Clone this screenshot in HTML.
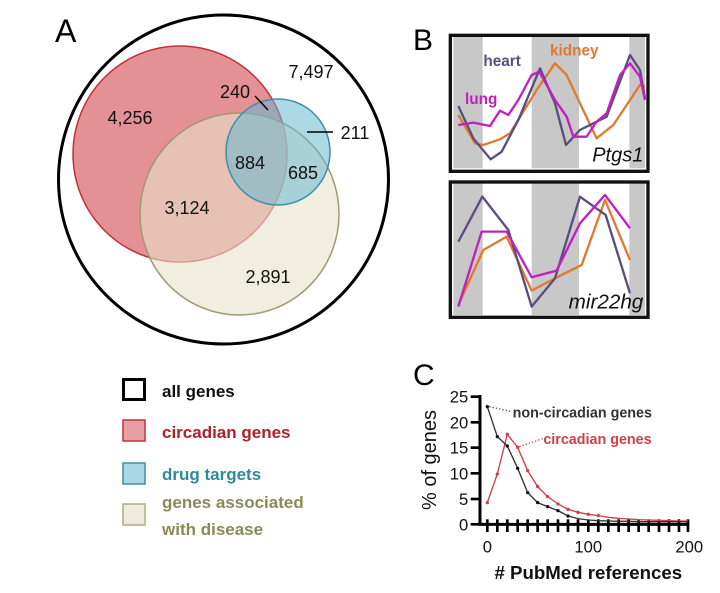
<!DOCTYPE html>
<html><head><meta charset="utf-8"><style>
html,body{margin:0;padding:0;background:#fff;width:720px;height:593px;overflow:hidden}
svg{display:block;font-family:"Liberation Sans",sans-serif}
</style></head><body>
<svg width="720" height="593" viewBox="0 0 720 593" xmlns="http://www.w3.org/2000/svg">
<!-- Panel A -->
<text x="55" y="42" font-size="32">A</text>
<ellipse cx="223.5" cy="179.5" rx="165" ry="164.5" fill="none" stroke="#000" stroke-width="3"/>
<ellipse cx="180" cy="154" rx="107" ry="108" fill="#e08589" fill-opacity="0.9" stroke="#c23038" stroke-width="1.5"/>
<ellipse cx="239.5" cy="214" rx="99.5" ry="101" fill="#e8e2cc" fill-opacity="0.6" stroke="#a09a70" stroke-width="1.5"/>
<ellipse cx="278" cy="152" rx="52" ry="53" fill="#6ab8cf" fill-opacity="0.55" stroke="#3c8fa5" stroke-width="1.5"/>
<g font-size="18" text-anchor="middle" fill="#111">
<text x="311" y="78">7,497</text>
<text x="235" y="98">240</text>
<text x="130" y="124">4,256</text>
<text x="355" y="139">211</text>
<text x="250" y="169">884</text>
<text x="303" y="179">685</text>
<text x="187" y="214">3,124</text>
<text x="268" y="283">2,891</text>
</g>
<line x1="255" y1="96" x2="268" y2="110" stroke="#000" stroke-width="1.5"/>
<line x1="307" y1="132" x2="333" y2="132" stroke="#000" stroke-width="1.5"/>
<!-- Legend -->
<rect x="123.5" y="379.5" width="21" height="20" fill="#fff" stroke="#000" stroke-width="3"/>
<rect x="123" y="420" width="22" height="21" fill="#e6a0a3" stroke="#c23038" stroke-width="1.5"/>
<rect x="123" y="463" width="22" height="21" fill="#a8d8e6" stroke="#3c8fa5" stroke-width="1.5"/>
<rect x="123" y="504" width="22" height="21" fill="#efebdc" stroke="#b0aa88" stroke-width="1.5"/>
<g font-size="17" font-weight="bold">
<text x="162" y="397" fill="#111">all genes</text>
<text x="162" y="438" fill="#b0202a">circadian genes</text>
<text x="162" y="480" fill="#2f8a9a">drug targets</text>
<text x="162" y="508" fill="#8a8a55">genes associated</text>
<text x="162" y="535" fill="#8a8a55">with disease</text>
</g>
<!-- Panel B -->
<text x="413" y="50" font-size="30">B</text>
<g transform="translate(440,20) scale(0.3333)">
<g fill="#c8c8c8">
<rect x="40" y="50" width="88" height="395"/><rect x="275" y="50" width="142" height="395"/><rect x="568" y="50" width="47" height="395"/>
<rect x="40" y="490" width="88" height="395"/><rect x="275" y="490" width="142" height="395"/><rect x="568" y="490" width="47" height="395"/>
</g>
<rect x="31" y="46" width="593" height="408" fill="none" stroke="#111" stroke-width="10"/>
<rect x="31" y="486" width="593" height="406" fill="none" stroke="#111" stroke-width="10"/>
<g fill="none" stroke-width="7" stroke-linejoin="round">
<polyline stroke="#e07a30" points="55,285 105,370 130,375 180,358 210,340 290,210 345,130 380,165 420,250 470,355 520,315 570,240 600,195 615,200"/>
<polyline stroke="#5b4e7e" points="55,258 100,355 152,418 185,395 235,300 300,145 345,250 378,375 420,330 500,290 570,105 600,150 615,235"/>
<polyline stroke="#c020c0" points="55,315 100,308 150,318 180,272 205,285 235,240 275,165 298,155 345,240 380,290 400,350 440,350 470,305 500,280 540,165 570,130 600,170 615,240"/>
<polyline stroke="#e07a30" points="55,855 130,690 200,650 275,812 345,775 425,735 495,540 570,720"/>
<polyline stroke="#5b4e7e" points="55,665 127,530 205,630 275,860 345,775 420,530 497,585 570,820"/>
<polyline stroke="#c020c0" points="55,860 125,635 200,635 275,772 350,752 420,610 495,525 570,625"/>
</g>
<g font-weight="bold" font-size="46">
<text x="130" y="138" fill="#5b4e7e">heart</text>
<text x="330" y="106" fill="#e07a30">kidney</text>
<text x="75" y="252" fill="#c020c0">lung</text>
</g>
<text x="610" y="424" font-size="60" font-style="italic" text-anchor="end" fill="#111">Ptgs1</text>
<text x="610" y="866" font-size="62" font-style="italic" text-anchor="end" fill="#111">mir22hg</text>
</g>
<!-- Panel C -->
<text x="413" y="385" font-size="30">C</text>
<g transform="translate(400,340) scale(0.3333)">
<line x1="240" y1="165" x2="240" y2="556" stroke="#000" stroke-width="9"/>
<line x1="236" y1="553" x2="868" y2="553" stroke="#000" stroke-width="9"/>
<g stroke="#000" stroke-width="8">
<line x1="212" y1="170" x2="240" y2="170"/><line x1="212" y1="247" x2="240" y2="247"/><line x1="212" y1="323" x2="240" y2="323"/><line x1="212" y1="400" x2="240" y2="400"/><line x1="212" y1="477" x2="240" y2="477"/><line x1="212" y1="553" x2="240" y2="553"/>
</g>
<g stroke="#000" stroke-width="8">
<line x1="262" y1="538" x2="262" y2="576"/><line x1="292" y1="538" x2="292" y2="576"/><line x1="322" y1="538" x2="322" y2="576"/><line x1="353" y1="538" x2="353" y2="576"/><line x1="383" y1="538" x2="383" y2="576"/><line x1="413" y1="538" x2="413" y2="576"/><line x1="443" y1="538" x2="443" y2="576"/><line x1="474" y1="538" x2="474" y2="576"/><line x1="504" y1="538" x2="504" y2="576"/><line x1="534" y1="538" x2="534" y2="576"/><line x1="565" y1="538" x2="565" y2="576"/><line x1="595" y1="538" x2="595" y2="576"/><line x1="625" y1="538" x2="625" y2="576"/><line x1="656" y1="538" x2="656" y2="576"/><line x1="686" y1="538" x2="686" y2="576"/><line x1="716" y1="538" x2="716" y2="576"/><line x1="746" y1="538" x2="746" y2="576"/><line x1="777" y1="538" x2="777" y2="576"/><line x1="807" y1="538" x2="807" y2="576"/><line x1="837" y1="538" x2="837" y2="576"/><line x1="864" y1="538" x2="864" y2="576"/>
</g>
<g font-size="50" text-anchor="end" fill="#111">
<text x="205" y="188">25</text><text x="205" y="265">20</text><text x="205" y="341">15</text><text x="205" y="418">10</text><text x="205" y="495">5</text><text x="205" y="571">0</text>
</g>
<g font-size="50" text-anchor="middle" fill="#111">
<text x="262" y="638">0</text><text x="565" y="638">100</text><text x="868" y="638">200</text>
</g>
<text x="565" y="717" font-size="56" font-weight="bold" text-anchor="middle" fill="#111">#  PubMed references</text>
<text transform="translate(108,360) rotate(-90)" font-size="60" text-anchor="middle" fill="#111">% of genes</text>
<g fill="none" stroke-width="4">
<polyline stroke="#d04048" points="262,488 292,402 322,283 353,322 383,392 413,440 443,470 474,492 504,508 534,517 565,523 595,527 625,532 656,535 686,537 716,539 746,540 777,541 807,542 837,543 864,543"/>
<polyline stroke="#333" points="262,200 292,290 322,318 353,385 383,458 413,488 443,500 474,512 504,528 534,536 565,540 595,542 625,543 656,544 686,544 716,545 746,545 777,545 807,545 837,545 864,545"/>
</g>
<g fill="#d04048"><circle cx="262" cy="488" r="5"/><circle cx="292" cy="402" r="5"/><circle cx="322" cy="283" r="5"/><circle cx="353" cy="322" r="5"/><circle cx="383" cy="392" r="5"/><circle cx="413" cy="440" r="5"/><circle cx="443" cy="470" r="5"/><circle cx="474" cy="492" r="5"/><circle cx="504" cy="508" r="5"/><circle cx="534" cy="517" r="5"/><circle cx="565" cy="523" r="5"/><circle cx="595" cy="527" r="5"/></g>
<g fill="#111"><circle cx="262" cy="200" r="5"/><circle cx="292" cy="290" r="5"/><circle cx="322" cy="318" r="5"/><circle cx="353" cy="385" r="5"/><circle cx="383" cy="458" r="5"/><circle cx="413" cy="488" r="5"/><circle cx="443" cy="500" r="5"/><circle cx="474" cy="512" r="5"/><circle cx="504" cy="528" r="5"/></g>
<line x1="268" y1="200" x2="335" y2="215" stroke="#555" stroke-width="4" stroke-dasharray="4,6"/>
<line x1="358" y1="320" x2="428" y2="296" stroke="#d04048" stroke-width="4" stroke-dasharray="4,6"/>
<text x="338" y="232" font-size="43" font-weight="bold" fill="#333">non-circadian genes</text>
<text x="430" y="312" font-size="43" font-weight="bold" fill="#d04048">circadian genes</text>
</g>
</svg>
</body></html>
